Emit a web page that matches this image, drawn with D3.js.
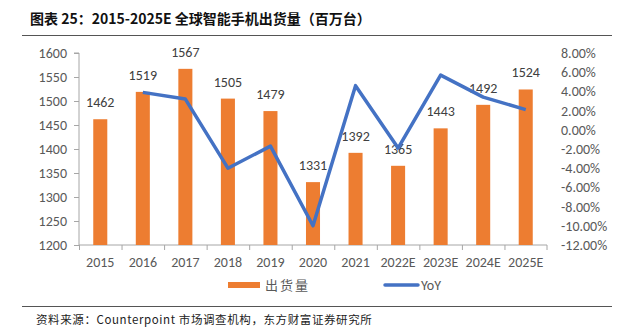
<!DOCTYPE html>
<html lang="zh">
<head>
<meta charset="UTF-8">
<title>全球智能手机出货量</title>
<style>
  html, body { margin: 0; padding: 0; background: #fff; }
  svg { display: block; }
</style>
</head>
<body>
<svg id="chart" width="631" height="332"></svg>

<script src="https://d3js.org/d3.v7.min.js"></script>
<script>
// categories and series
const years = ["2015", "2016", "2017", "2018", "2019", "2020", "2021", "2022E", "2023E", "2024E", "2025E"];
const shipments = [1462, 1519, 1567, 1505, 1479, 1331, 1392, 1365, 1443, 1492, 1524];
const yoy = [null, 3.9, 3.2, -4.0, -1.7, -10.0, 4.6, -1.9, 5.7, 3.4, 2.1];
const leftTicks = [1200, 1250, 1300, 1350, 1400, 1450, 1500, 1550, 1600];
const rightTicks = [-12, -10, -8, -6, -4, -2, 0, 2, 4, 6, 8];

const svg = d3.select("#chart");
const cjk = "'Noto Sans CJK SC', 'Noto Sans', sans-serif";
const latin = "Carlito, 'Liberation Sans', 'DejaVu Sans', sans-serif";

const plotL = 79, plotR = 547, plotT = 53, plotB = 245;

const x = d3.scaleBand().domain(years).range([plotL, plotR]).paddingInner(0.67).paddingOuter(0.335);
const xEdge = d3.scaleBand().domain(years).range([plotL, plotR]);
const yL = d3.scaleLinear().domain([1200, 1600]).range([plotB, plotT]);
const yR = d3.scaleLinear().domain([-12, 8]).range([plotB, plotT]);

// title and rules
svg.append("text")
  .attr("x", 30).attr("y", 24)
  .style("font-family", cjk).style("font-weight", "bold").style("font-size", "14px")
  .attr("fill", "#111")
  .text("图表 25：2015-2025E 全球智能手机出货量（百万台）");
svg.append("line").attr("x1", 22).attr("x2", 612).attr("y1", 35.5).attr("y2", 35.5)
  .attr("stroke", "#555").attr("stroke-width", 1);
svg.append("line").attr("x1", 22).attr("x2", 612).attr("y1", 306.5).attr("y2", 306.5)
  .attr("stroke", "#555").attr("stroke-width", 1);
svg.append("text")
  .attr("x", 36).attr("y", 324)
  .style("font-family", cjk).style("font-size", "11.5px").attr("fill", "#222")
  .attr("letter-spacing", "0.6px")
  .text("资料来源：Counterpoint 市场调查机构，东方财富证券研究所");

// left axis
const gL = svg.append("g").attr("transform", `translate(${plotL},0)`)
  .call(d3.axisLeft(yL).tickValues(leftTicks).tickSize(5).tickPadding(7).tickFormat(d3.format("d")));
gL.select(".domain").attr("stroke", "#a6a6a6").attr("d", `M-5,${plotT}H0V${plotB}`);
gL.selectAll(".tick line").attr("stroke", "#a6a6a6");
gL.selectAll(".tick text").attr("fill", "#595959").style("font-size", "14px").style("font-family", latin);

// right axis (labels only)
const gR = svg.append("g").attr("transform", `translate(${plotR},0)`)
  .call(d3.axisRight(yR).tickValues(rightTicks).tickSize(0).tickPadding(14)
    .tickFormat(d => d.toFixed(2) + "%"));
gR.select(".domain").remove();
gR.selectAll(".tick text").attr("fill", "#595959").style("font-size", "14px").style("font-family", latin);

// bottom axis with ticks between categories
const gB = svg.append("g").attr("transform", `translate(0,${plotB})`)
  .call(d3.axisBottom(x).tickSize(0).tickPadding(12));
gB.select(".domain").attr("stroke", "#a6a6a6").attr("d", `M${plotL},0H${plotR}V5`);
gB.selectAll(".tick text").attr("fill", "#595959").style("font-size", "14px").style("font-family", latin);
svg.append("g").selectAll("line")
  .data(years)
  .join("line")
  .attr("x1", d => xEdge(d) + 0.5).attr("x2", d => xEdge(d) + 0.5)
  .attr("y1", plotB).attr("y2", plotB + 5)
  .attr("stroke", "#a6a6a6");

// bars
svg.append("g").selectAll("rect")
  .data(shipments)
  .join("rect")
  .attr("x", (d, i) => x(years[i]))
  .attr("width", x.bandwidth())
  .attr("y", d => yL(d))
  .attr("height", d => plotB - yL(d))
  .attr("fill", "#ED7D31");

// value labels
svg.append("g").selectAll("text")
  .data(shipments)
  .join("text")
  .attr("x", (d, i) => x(years[i]) + x.bandwidth() / 2)
  .attr("y", d => yL(d) - 12)
  .attr("text-anchor", "middle")
  .style("font-family", latin).style("font-size", "14px")
  .attr("fill", "#404040")
  .text(d => d);

// YoY line
const line = d3.line()
  .defined(d => d != null)
  .x((d, i) => x(years[i]) + x.bandwidth() / 2)
  .y(d => yR(d));
svg.append("path")
  .datum(yoy)
  .attr("d", line)
  .attr("fill", "none")
  .attr("stroke", "#4472C4")
  .attr("stroke-width", 3.5)
  .attr("stroke-linejoin", "round");

// legend
const lg = svg.append("g");
lg.append("rect").attr("x", 228).attr("y", 282).attr("width", 32).attr("height", 6).attr("fill", "#ED7D31");
lg.append("text").attr("x", 265).attr("y", 290)
  .style("font-family", cjk).style("font-size", "13px").attr("fill", "#595959")
  .attr("letter-spacing", "2px").text("出货量");
lg.append("line").attr("x1", 385).attr("x2", 418).attr("y1", 285).attr("y2", 285)
  .attr("stroke", "#4472C4").attr("stroke-width", 3.5).attr("stroke-linecap", "round");
lg.append("text").attr("x", 421).attr("y", 290)
  .style("font-family", latin).style("font-size", "14px").attr("fill", "#595959")
  .text("YoY");
</script>
</body>
</html>
